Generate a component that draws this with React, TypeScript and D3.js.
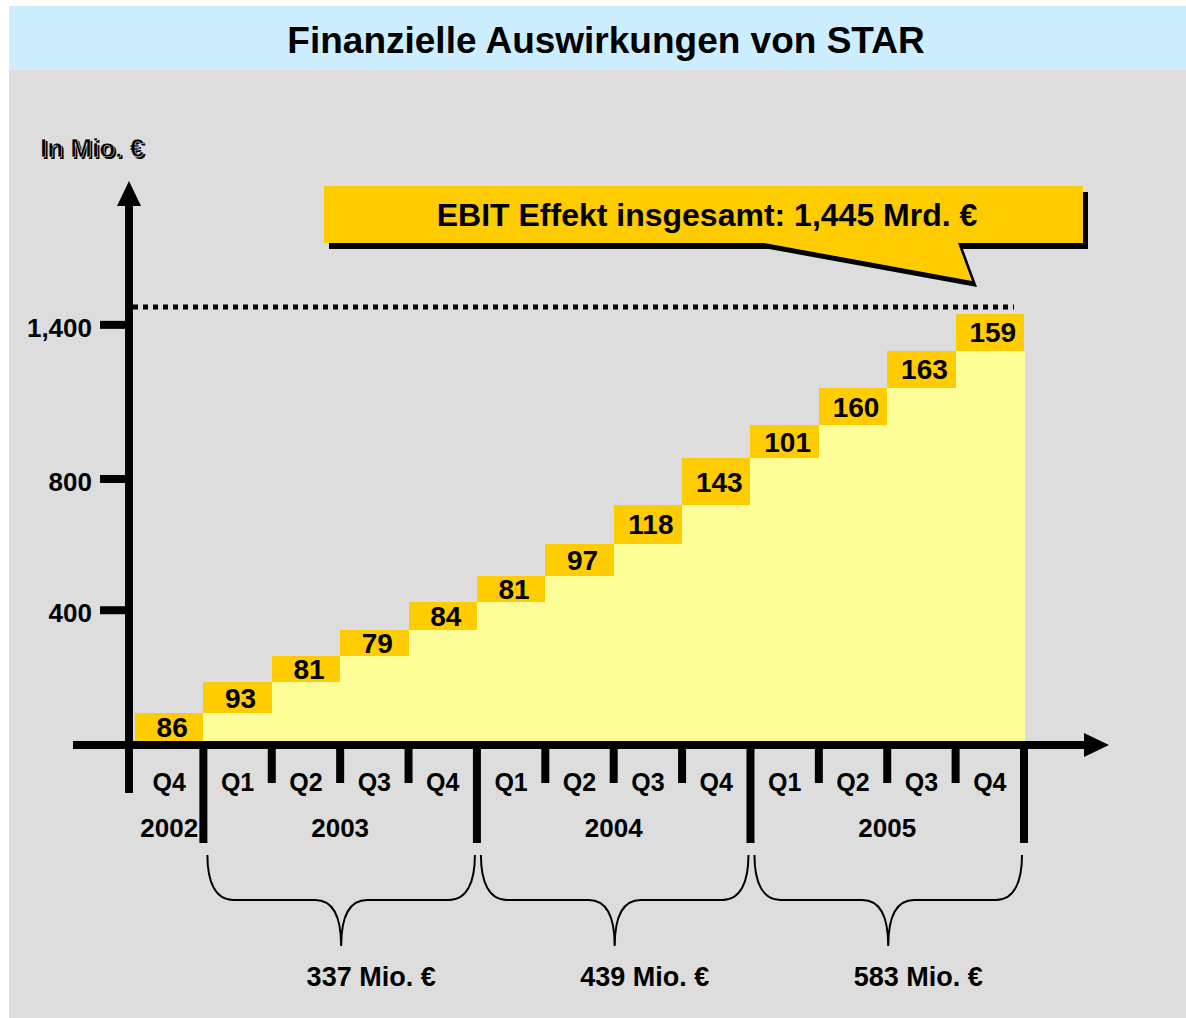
import React, { useRef, useEffect } from 'react';
import * as d3 from 'd3';

// Quartale und EBIT-Effekt je Quartal (Mio. €)
const periods = [
  '2002 Q4',
  '2003 Q1', '2003 Q2', '2003 Q3', '2003 Q4',
  '2004 Q1', '2004 Q2', '2004 Q3', '2004 Q4',
  '2005 Q1', '2005 Q2', '2005 Q3', '2005 Q4',
];
const values = [86, 93, 81, 79, 84, 81, 97, 118, 143, 101, 160, 163, 159];
const yTicks = [400, 800, 1400];
const bracedYears = ['2003', '2004', '2005'];

interface StepItem {
  period: string;
  year: string;
  quarter: string;
  value: number;
  start: number;
  end: number;
}

const FONT = '"Liberation Sans", Arial, Helvetica, sans-serif';

const App: React.FC = () => {
  const svgRef = useRef<SVGSVGElement | null>(null);
  const W = 1186;
  const H = 1018;

  useEffect(() => {
    if (!svgRef.current) return;
    const root = d3.select(svgRef.current);
    root.selectAll('*').remove();

    // kumulierte Werte
    let acc = 0;
    const steps: StepItem[] = periods.map((p, i) => {
      const [year, quarter] = p.split(' ');
      const start = acc;
      acc += values[i];
      return { period: p, year, quarter, value: values[i], start, end: acc };
    });
    const total = acc;

    const baseY = 741;
    const axisY = 745;
    const axisX = 129;

    const x = d3.scaleBand<string>()
      .domain(periods)
      .range([135, 1024])
      .paddingInner(0)
      .paddingOuter(0);

    // Skala (oben etwas gestaucht wie im Original)
    const y = d3.scaleLinear()
      .domain([0, 963, total])
      .range([baseY, 425, 314]);

    // Hintergrund
    root.append('rect').attr('x', 0).attr('y', 0).attr('width', W).attr('height', H).attr('fill', '#fff');
    root.append('rect').attr('x', 9).attr('y', 70).attr('width', W - 9).attr('height', H - 70).attr('fill', '#dddddd');
    root.append('rect').attr('x', 9).attr('y', 6).attr('width', W - 9).attr('height', 64).attr('fill', '#cceeff');

    root.append('text')
      .attr('x', 606).attr('y', 53)
      .attr('text-anchor', 'middle')
      .style('font-family', FONT).style('font-weight', 'bold').style('font-size', '37px')
      .attr('fill', '#000')
      .text('Finanzielle Auswirkungen von STAR');

    // Einheit mit Schatten
    [[42, 150, 'none'], [40, 148, '#fff']].forEach(([tx, ty, st]) => {
      root.append('text')
        .attr('x', tx as number).attr('y', (ty as number) + 9)
        .style('font-family', FONT).style('font-weight', 'bold').style('font-size', '26px')
        .attr('fill', '#000')
        .attr('stroke', st as string)
        .attr('stroke-width', 0.5)
        .text('In Mio. €');
    });

    // Flächen
    root.append('g').selectAll('rect')
      .data(steps)
      .enter().append('rect')
      .attr('x', d => x(d.period)!)
      .attr('y', d => y(d.start))
      .attr('width', x.bandwidth() + 0.5)
      .attr('height', d => baseY - y(d.start))
      .attr('fill', '#ffff99')
      .attr('shape-rendering', 'crispEdges');

    root.append('g').selectAll('rect')
      .data(steps)
      .enter().append('rect')
      .attr('x', d => x(d.period)!)
      .attr('y', d => y(d.end))
      .attr('width', x.bandwidth())
      .attr('height', d => y(d.start) - y(d.end))
      .attr('fill', '#ffcc00')
      .attr('shape-rendering', 'crispEdges');

    root.append('g').selectAll('text')
      .data(steps)
      .enter().append('text')
      .attr('x', d => x(d.period)! + x.bandwidth() / 2 + 3)
      .attr('y', d => (y(d.start) + y(d.end)) / 2 + 10)
      .attr('text-anchor', 'middle')
      .style('font-family', FONT).style('font-weight', 'bold').style('font-size', '28px')
      .attr('fill', '#000')
      .text(d => d.value);

    // Gesamtlinie
    root.append('line')
      .attr('x1', 133).attr('x2', x(periods[periods.length - 1])! + x.bandwidth() - 10)
      .attr('y1', y(total) - 7).attr('y2', y(total) - 7)
      .attr('stroke', '#000').attr('stroke-width', 5)
      .attr('stroke-dasharray', '5,5');

    // Y-Achse
    const yAxis = root.append('g')
      .attr('transform', `translate(${axisX},0)`)
      .call(d3.axisLeft(y).tickValues(yTicks).tickSize(29).tickPadding(8).tickFormat(d3.format(',')));
    yAxis.select('.domain').remove();
    yAxis.selectAll('.tick line').attr('stroke', '#000').attr('stroke-width', 8);
    yAxis.selectAll('.tick text')
      .attr('fill', '#000')
      .attr('dy', '0.45em')
      .style('font-family', FONT).style('font-weight', 'bold').style('font-size', '26px');

    root.append('line')
      .attr('x1', axisX).attr('x2', axisX).attr('y1', 203).attr('y2', 793)
      .attr('stroke', '#000').attr('stroke-width', 8);
    root.append('path')
      .attr('d', `M${axisX - 12},206 L${axisX + 12},206 L${axisX},181 Z`)
      .attr('fill', '#000');

    // X-Achse
    root.append('line')
      .attr('x1', 73).attr('x2', 1086).attr('y1', axisY).attr('y2', axisY)
      .attr('stroke', '#000').attr('stroke-width', 8);
    root.append('path')
      .attr('d', `M1084,${axisY - 12} L1084,${axisY + 12} L1109,${axisY} Z`)
      .attr('fill', '#000');

    // Trennstriche unter der Achse
    const edges = steps.slice(1).map((d, i) => ({
      xPos: x(d.period)!,
      long: d.year !== steps[i].year,
    }));
    const last = steps[steps.length - 1];
    edges.push({ xPos: x(last.period)! + x.bandwidth(), long: true });

    root.append('g').selectAll('line')
      .data(edges)
      .enter().append('line')
      .attr('x1', d => d.xPos).attr('x2', d => d.xPos)
      .attr('y1', axisY).attr('y2', d => (d.long ? 843 : 783))
      .attr('stroke', '#000').attr('stroke-width', 8);

    // Quartalsbeschriftung
    root.append('g').selectAll('text')
      .data(steps)
      .enter().append('text')
      .attr('x', d => x(d.period)! + x.bandwidth() / 2)
      .attr('y', 791)
      .attr('text-anchor', 'middle')
      .style('font-family', FONT).style('font-weight', 'bold').style('font-size', '25px')
      .attr('fill', '#000')
      .text(d => d.quarter);

    // Jahre
    const years = Array.from(new Set(steps.map(d => d.year)));
    const yearSpan = (yr: string) => {
      const items = steps.filter(d => d.year === yr);
      const x0 = x(items[0].period)!;
      const x1 = x(items[items.length - 1].period)! + x.bandwidth();
      const sum = d3.sum(items, d => d.value);
      return { x0, x1, sum };
    };

    root.append('g').selectAll('text')
      .data(years)
      .enter().append('text')
      .attr('x', yr => { const s = yearSpan(yr); return (s.x0 + s.x1) / 2; })
      .attr('y', 837)
      .attr('text-anchor', 'middle')
      .style('font-family', FONT).style('font-weight', 'bold').style('font-size', '26px')
      .attr('fill', '#000')
      .text(yr => yr);

    // Geschweifte Klammern mit Jahressummen
    const brace = (x0: number, x1: number) => {
      const top = 855;
      const mid = 900;
      const tip = 946;
      const m = (x0 + x1) / 2;
      return `M${x0},${top} C${x0},${mid - 18} ${x0 + 8},${mid} ${x0 + 26},${mid} ` +
        `L${m - 26},${mid} C${m - 8},${mid} ${m},${mid + 16} ${m},${tip} ` +
        `C${m},${mid + 16} ${m + 8},${mid} ${m + 26},${mid} ` +
        `L${x1 - 26},${mid} C${x1 - 8},${mid} ${x1},${mid - 18} ${x1},${top}`;
    };

    const braceG = root.append('g');
    bracedYears.forEach(yr => {
      const s = yearSpan(yr);
      braceG.append('path')
        .attr('d', brace(s.x0 + 4, s.x1 - 2))
        .attr('fill', 'none').attr('stroke', '#000').attr('stroke-width', 2);
      braceG.append('text')
        .attr('x', (s.x0 + s.x1) / 2 + 31)
        .attr('y', 986)
        .attr('text-anchor', 'middle')
        .style('font-family', FONT).style('font-weight', 'bold').style('font-size', '27px')
        .attr('fill', '#000')
        .text(`${s.sum} Mio. €`);
    });

    // Sprechblase
    const callout = 'M324,186 H1083 V243 H958 L972,281 L764,243 H324 Z';
    root.append('path').attr('d', callout).attr('transform', 'translate(5,6)').attr('fill', '#000');
    root.append('path').attr('d', callout).attr('fill', '#ffcc00');
    root.append('text')
      .attr('x', 707).attr('y', 226)
      .attr('text-anchor', 'middle')
      .style('font-family', FONT).style('font-weight', 'bold').style('font-size', '32px')
      .attr('fill', '#000')
      .text(`EBIT Effekt insgesamt: ${d3.format(',')(total)} Mrd. €`);
  }, []);

  return (
    <svg
      ref={svgRef}
      width={W}
      height={H}
      style={{ position: 'absolute', left: 0, top: 0, display: 'block' }}
    />
  );
};

export default App;
